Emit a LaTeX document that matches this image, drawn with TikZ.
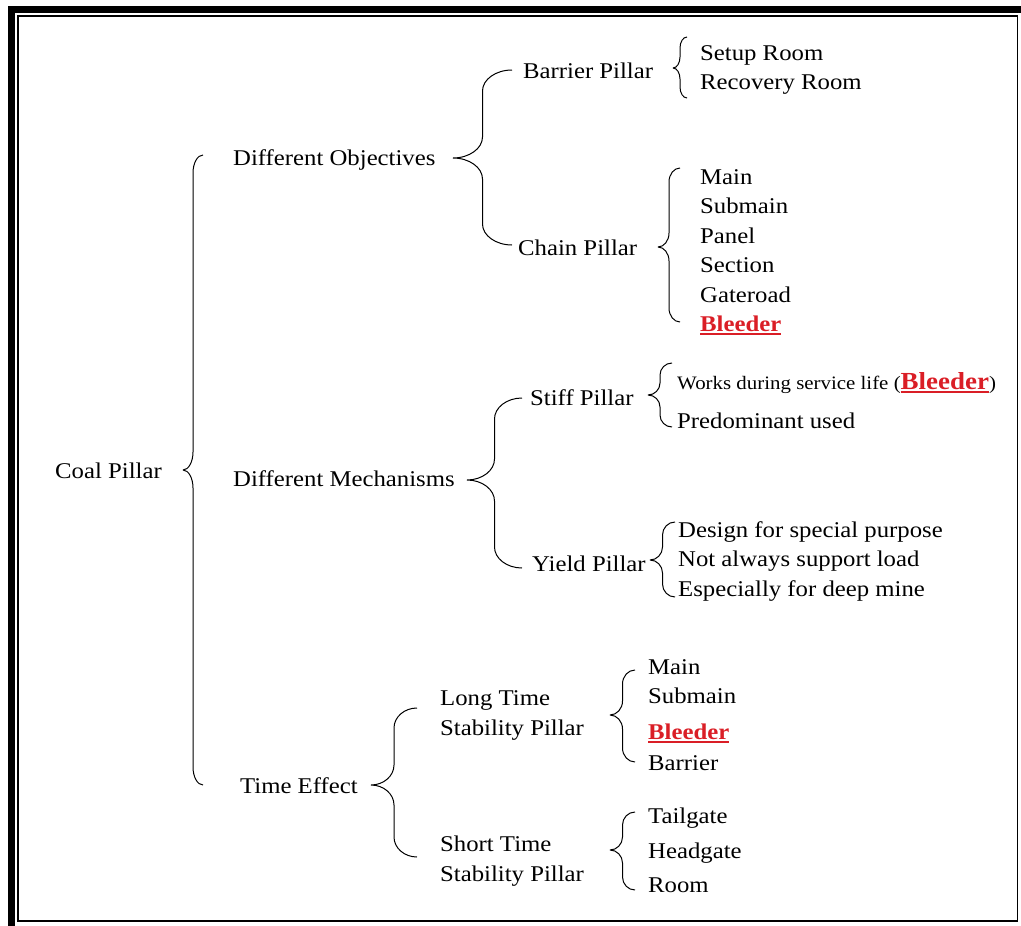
\documentclass[tikz,border=0pt]{standalone}
\usepackage{fontspec}
\setmainfont{Liberation Serif}[FakeStretch=1.1]
\usepackage{tikz}
\usetikzlibrary{calc}
\definecolor{bleedred}{RGB}{218,30,38}
\newcommand{\redline}[1]{\setbox0\hbox{#1}\leavevmode\rlap{\textcolor{bleedred}{\rule[-3.5pt]{\wd0}{1.8pt}}}\box0}
\newcommand{\bleed}{\textcolor{bleedred}{\redline{\bfseries Bleeder}}}

\begin{document}
\begin{tikzpicture}[x=1pt,y=-1pt]
		\useasboundingbox (0,0) rectangle (1021,926);
		\clip (0,0) rectangle (1021,926);
		\draw[line width=7pt] (11.5,9.5) rectangle (1040,929);
		\draw[line width=1.2pt] (18,16) rectangle (1017.5,921);
		\tikzstyle{txt}=[anchor=west,inner sep=0pt,text height=16pt,text depth=0pt,font=\fontsize{22.5}{30}\selectfont]
		\tikzstyle{small}=[txt,font=\fontsize{19}{24}\selectfont]
		\tikzstyle{pbrace}=[line width=1pt]
		\tikzset{halfbrace/.style={to path={let \p1=(\tikztostart), \p2=(\tikztotarget),
			\n1={(\x1+\x2)/2}, \n2={\y1+sign(\y2-\y1)*#1pt}, \n3={\y2-sign(\y2-\y1)*#1pt},
			\n4={0.55*(\n1-\x1)}, \n5={0.55*(\y1-\n2)}, \n6={0.55*(\y2-\n3)}, \n7={0.55*(\n1-\x2)} in
			.. controls +(\n4,0pt) and +(0pt,\n5) .. (\n1,\n2) -- (\n1,\n3)
			.. controls +(0pt,\n6) and +(\n7,0pt) .. (\tikztotarget)}}}
		\node[txt] (coal) at (55,470) {Coal Pillar};
		\node[txt] (diffobj) at (233,157) {Different Objectives};
		\node[txt] (barrier) at (523,70) {Barrier Pillar};
		\node[txt] (setup) at (700,52) {Setup Room};
		\node[txt] (recovery) at (700,81) {Recovery Room};
		\node[txt] (chain) at (518,247) {Chain Pillar};
		\node[txt] (main_1) at (700,176) {Main};
		\node[txt] (submain_1) at (700,205) {Submain};
		\node[txt] (panel) at (700,235) {Panel};
		\node[txt] (section) at (700,264) {Section};
		\node[txt] (gateroad) at (700,294) {Gateroad};
		\node[txt] (bleeder_1) at (700,323) {\bleed};
		\node[txt] (diffmech) at (233,478) {Different Mechanisms};
		\node[txt] (stiff) at (530,397) {Stiff Pillar};
		\node[small] (works) at (677,381) {Works during service life ({\fontsize{24.5}{24}\selectfont\bleed})};
		\node[txt] (predom) at (677,420) {Predominant used};
		\node[txt] (yield) at (532,563) {Yield Pillar};
		\node[txt] (design) at (678,529) {Design for special purpose};
		\node[txt] (notalways) at (678,558) {Not always support load};
		\node[txt] (especially) at (678,588) {Especially for deep mine};
		\node[txt] (timeeff) at (240,785) {Time Effect};
		\node[txt,align=left] (longtime) at (440,727) {Long Time\\Stability Pillar};
		\node[txt,align=left] (shorttime) at (440,873) {Short Time\\Stability Pillar};
		\node[txt] (main_2) at (648,666) {Main};
		\node[txt] (submain_2) at (648,695) {Submain};
		\node[txt] (bleeder_2) at (648,731) {\bleed};
		\node[txt] (barrier_2) at (648,762) {Barrier};
		\node[txt] (tailgate) at (648,815) {Tailgate};
		\node[txt] (headgate) at (648,850) {Headgate};
		\node[txt] (room) at (648,884) {Room};
		\coordinate (b_1m) at (183,470); \coordinate (b_1t) at (203,155); \coordinate (b_1b) at (203,785);
		\coordinate (b_2m) at (453,158); \coordinate (b_2t) at (512,70); \coordinate (b_2b) at (512,245);
		\coordinate (b_3m) at (673,68); \coordinate (b_3t) at (687,37); \coordinate (b_3b) at (687,98);
		\coordinate (b_4m) at (658,247); \coordinate (b_4t) at (680,168); \coordinate (b_4b) at (680,322);
		\coordinate (b_5m) at (467,480); \coordinate (b_5t) at (522,398); \coordinate (b_5b) at (522,568);
		\coordinate (b_6m) at (648,395); \coordinate (b_6t) at (672,363); \coordinate (b_6b) at (672,427);
		\coordinate (b_7m) at (650,560); \coordinate (b_7t) at (675,522); \coordinate (b_7b) at (675,597);
		\coordinate (b_8m) at (371,785); \coordinate (b_8t) at (417,708); \coordinate (b_8b) at (417,857);
		\coordinate (b_9m) at (610,715); \coordinate (b_9t) at (635,670); \coordinate (b_9b) at (635,762);
		\coordinate (b_10m) at (610,850); \coordinate (b_10t) at (635,812); \coordinate (b_10b) at (635,890);
		\draw[pbrace] (b_1m) to[halfbrace=18] (b_1t) (b_1m) to[halfbrace=18] (b_1b);
		\draw[pbrace] (b_2m) to[halfbrace=21] (b_2t) (b_2m) to[halfbrace=21] (b_2b);
		\draw[pbrace] (b_3m) to[halfbrace=11] (b_3t) (b_3m) to[halfbrace=11] (b_3b);
		\draw[pbrace] (b_4m) to[halfbrace=14] (b_4t) (b_4m) to[halfbrace=14] (b_4b);
		\draw[pbrace] (b_5m) to[halfbrace=21] (b_5t) (b_5m) to[halfbrace=21] (b_5b);
		\draw[pbrace] (b_6m) to[halfbrace=12] (b_6t) (b_6m) to[halfbrace=12] (b_6b);
		\draw[pbrace] (b_7m) to[halfbrace=13] (b_7t) (b_7m) to[halfbrace=13] (b_7b);
		\draw[pbrace] (b_8m) to[halfbrace=20] (b_8t) (b_8m) to[halfbrace=20] (b_8b);
		\draw[pbrace] (b_9m) to[halfbrace=14] (b_9t) (b_9m) to[halfbrace=14] (b_9b);
		\draw[pbrace] (b_10m) to[halfbrace=13] (b_10t) (b_10m) to[halfbrace=13] (b_10b);
	\end{tikzpicture}
\end{document}
